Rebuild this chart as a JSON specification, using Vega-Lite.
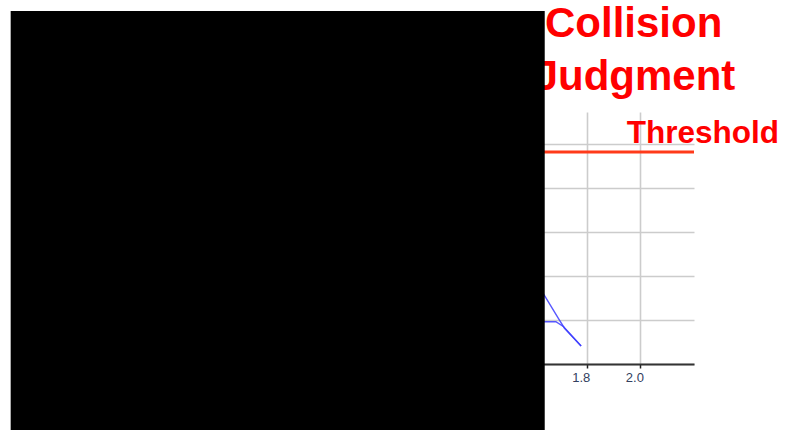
{
  "$schema": "https://vega.github.io/schema/vega-lite/v6.json",
  "autosize": {"type": "none"},
  "width": 590,
  "height": 252,
  "padding": {"left": 104, "top": 112, "right": 91, "bottom": 66},
  "background": "white",
  "config": {
    "view": {"stroke": null},
    "font": "Liberation Sans",
    "axis": {
      "gridColor": "#cccccc",
      "gridWidth": 1.6,
      "domainColor": "#333333",
      "domainWidth": 2,
      "tickColor": "#222222",
      "tickWidth": 1.5,
      "labelColor": "#334060",
      "labelFont": "Liberation Sans",
      "labelFontSize": 13,
      "titleFontSize": 12
    }
  },
  "datasets": {
    "lines": [
      {"series": "A", "x": 1.60, "y": 1.93},
      {"series": "A", "x": 1.636, "y": 1.628},
      {"series": "A", "x": 1.696, "y": 1.02},
      {"series": "A", "x": 1.717, "y": 0.815},
      {"series": "A", "x": 1.779, "y": 0.41},
      {"series": "B", "x": 1.60, "y": 0.964},
      {"series": "B", "x": 1.685, "y": 0.964},
      {"series": "B", "x": 1.714, "y": 0.85},
      {"series": "B", "x": 1.779, "y": 0.41}
    ],
    "threshold": [{"value": 4.83}],
    "labels": [
      {"label": "Collision", "x": 1.975, "y": 7.44},
      {"label": "Judgment", "x": 1.98, "y": 6.24}
    ],
    "thresholdLabel": [{"label": "Threshold", "x": 1.949, "y": 5.04}],
    "mask": [{"x": -0.348, "x2": 1.6434, "y": -1.6, "y2": 8.04}]
  },
  "layer": [
    {
      "data": {"name": "threshold"},
      "mark": {"type": "rule", "color": "#ff3a1a", "strokeWidth": 3},
      "encoding": {
        "y": {
          "field": "value",
          "type": "quantitative",
          "scale": {"domain": [0, 5.74], "nice": false, "zero": false},
          "axis": {"values": [0, 1, 2, 3, 4, 5], "title": null, "domain": false, "ticks": false, "labels": true, "grid": true}
        }
      }
    },
    {
      "data": {"name": "lines"},
      "mark": {"type": "line", "color": "#3b3bff", "strokeWidth": 1.4, "opacity": 0.85},
      "encoding": {
        "x": {
          "field": "x",
          "type": "quantitative",
          "scale": {"domain": [0, 2.2], "nice": false, "zero": false},
          "axis": {"values": [0, 0.2, 0.4, 0.6, 0.8, 1.0, 1.2, 1.4, 1.6, 1.8, 2.0], "format": ".1f", "title": null, "tickSize": 4, "labelPadding": 3, "labelOffset": -6, "grid": true}
        },
        "y": {"field": "y", "type": "quantitative"},
        "detail": {"field": "series"}
      }
    },
    {
      "data": {"name": "labels"},
      "mark": {"type": "text", "color": "#ff0000", "font": "Liberation Sans", "fontWeight": "bold", "fontSize": 42, "align": "center", "baseline": "alphabetic"},
      "encoding": {
        "x": {"field": "x", "type": "quantitative"},
        "y": {"field": "y", "type": "quantitative"},
        "text": {"field": "label"}
      }
    },
    {
      "data": {"name": "thresholdLabel"},
      "mark": {"type": "text", "color": "#ff0000", "font": "Liberation Sans", "fontWeight": "bold", "fontSize": 31.5, "align": "left", "baseline": "alphabetic"},
      "encoding": {
        "x": {"field": "x", "type": "quantitative"},
        "y": {"field": "y", "type": "quantitative"},
        "text": {"field": "label"}
      }
    },
    {
      "data": {"name": "mask"},
      "mark": {"type": "rect", "color": "#000000", "opacity": 1},
      "encoding": {
        "x": {"field": "x", "type": "quantitative"},
        "x2": {"field": "x2"},
        "y": {"field": "y", "type": "quantitative"},
        "y2": {"field": "y2"}
      }
    }
  ]
}
